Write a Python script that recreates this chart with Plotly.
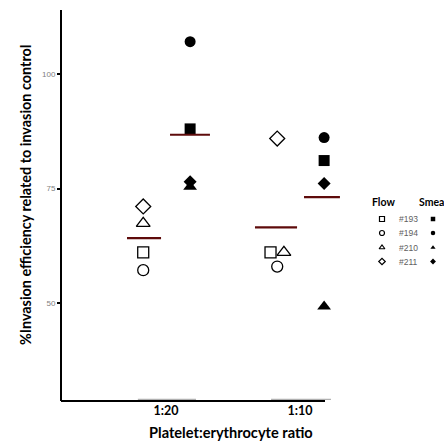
import plotly.graph_objects as go

# ---------------- data ----------------
categories = ["1:20", "1:10"]
donors = ["#193", "#194", "#210", "#211"]
flow_1_20 = [61.1, 57.2, 67.4, 71.1]
smear_1_20 = [88.0, 107.0, 75.4, 76.5]
flow_1_10 = [61.1, 58.0, 61.1, 85.9]
smear_1_10 = [81.1, 86.1, 49.3, 76.1]
y_ticks = [50, 75, 100]

# ---------------- styles ----------------
W, H = 444, 443
L, R, T, B = 62, 345, 10, 401          # plot area in pixels
open_symbols = ["square-open", "circle-open", "triangle-up-open", "diamond-open"]
fill_symbols = ["square", "circle", "triangle-up", "diamond"]
open_sizes = [11, 11, 12, 11.5]
fill_sizes = [11, 11, 12, 10]
flow_off = -0.17
smear_off = 0.18
flow_nudge = {0: [0, 0, 0, 0], 1: [-0.05, 0, 0.05, 0]}
smear_nudge = {0: [0, 0, 0, 0], 1: [0, 0, 0, 0]}
mean_half = {("flow", 0): 0.127, ("smear", 0): 0.149, ("flow", 1): 0.157, ("smear", 1): 0.134}
mean_center = {("flow", 0): -0.164, ("smear", 0): 0.179, ("flow", 1): -0.179, ("smear", 1): 0.164}
mean_color = "#5e0b0b"

groups = {(0, "flow"): flow_1_20, (0, "smear"): smear_1_20,
          (1, "flow"): flow_1_10, (1, "smear"): smear_1_10}

fig = go.Figure()

for (ci, kind), vals in groups.items():
    for di, v in enumerate(vals):
        if kind == "flow":
            x = ci + flow_off + flow_nudge[ci][di]
            marker = dict(symbol=open_symbols[di], size=open_sizes[di], color="black",
                          line=dict(width=1.3, color="black"))
        else:
            x = ci + smear_off + smear_nudge[ci][di]
            marker = dict(symbol=fill_symbols[di], size=fill_sizes[di], color="black", line=dict(width=0))
        fig.add_trace(go.Scatter(x=[x], y=[v], mode="markers", marker=marker,
                                 showlegend=False, cliponaxis=False, hoverinfo="skip"))
    m = sum(vals) / len(vals)
    c = ci + mean_center[(kind, ci)]
    h = mean_half[(kind, ci)]
    fig.add_trace(go.Scatter(x=[c - h, c + h], y=[m, m], mode="lines",
                             line=dict(color=mean_color, width=2.2),
                             showlegend=False, hoverinfo="skip"))

# faint grey bars just above the x axis
for ci, (a, b) in enumerate([(-0.21, 0.224), (-0.216, 0.231)]):
    fig.add_shape(type="line", xref="x", yref="y", x0=ci + a, x1=ci + b, y0=29.05, y1=29.05,
                  line=dict(color="#b0b0b0", width=1.2))

# ---------------- legend (pixel coordinates on a full-canvas overlay axis) ----------------
rows_y = [219, 233, 247.5, 261.5]
leg_open_x = 382
leg_fill_x = 433
leg_text_x = 397
for di in range(4):
    fig.add_trace(go.Scatter(x=[leg_open_x], y=[rows_y[di]], xaxis="x2", yaxis="y2", mode="markers",
                             marker=dict(symbol=open_symbols[di], size=5, color="black",
                                         line=dict(width=1.2, color="black")),
                             showlegend=False, cliponaxis=False, hoverinfo="skip"))
    fig.add_trace(go.Scatter(x=[leg_fill_x], y=[rows_y[di]], xaxis="x2", yaxis="y2", mode="markers",
                             marker=dict(symbol=fill_symbols[di], size=4.5, color="black"),
                             showlegend=False, cliponaxis=False, hoverinfo="skip"))
    fig.add_annotation(x=leg_text_x, y=rows_y[di], xref="x2", yref="y2", text=donors[di],
                       showarrow=False, xanchor="left", yanchor="middle",
                       font=dict(family="Arial, Liberation Sans", size=8.5, color="#606060"))

fig.add_annotation(x=383, y=202, xref="x2", yref="y2", text="<b>Flow</b>", showarrow=False,
                   xanchor="center", yanchor="middle", font=dict(family="Lato", size=10.5, color="black"))
fig.add_annotation(x=417, y=202, xref="x2", yref="y2", text="<b>Smear</b>", showarrow=False,
                   xanchor="left", yanchor="middle", font=dict(family="Lato", size=10.5, color="black"))

# axis titles
fig.add_annotation(x=25, y=195, xref="x2", yref="y2",
                   text="<b>%Invasion efficiency related to invasion control</b>",
                   textangle=-90, showarrow=False, xanchor="center", yanchor="middle",
                   font=dict(family="Lato", size=14.4, color="black"))
fig.add_annotation(x=231, y=432, xref="x2", yref="y2", text="<b>Platelet:erythrocyte ratio</b>",
                   showarrow=False, xanchor="center", yanchor="middle",
                   font=dict(family="Lato", size=14.6, color="black"))

# x axis line (stops short of the plot's right edge)
fig.add_shape(type="line", xref="x2", yref="y2", x0=L - 1, x1=325, y0=B, y1=B,
              line=dict(color="black", width=2))

xr = [-(166 - L) / 134, 1 + (R - 300) / 134]
yr = [50 - (B - 303) / 4.6, 100 + (74 - T) / 4.6]

fig.update_layout(
    width=W, height=H,
    margin=dict(l=0, r=0, t=0, b=0, pad=0),
    paper_bgcolor="white", plot_bgcolor="rgba(0,0,0,0)",
    xaxis=dict(domain=[L / W, R / W], range=xr, tickvals=[0, 1],
               ticktext=[f"<b>{c}</b>" for c in categories], anchor="y",
               showline=False, showgrid=False, zeroline=False, ticks="",
               tickfont=dict(family="Lato", size=12.5, color="black")),
    yaxis=dict(domain=[(H - B) / H, (H - T) / H], range=yr, tickvals=y_ticks, anchor="x",
               showline=True, linecolor="black", linewidth=2,
               showgrid=False, zeroline=False, ticks="outside", ticklen=3, tickwidth=1.5,
               tickcolor="black", tickfont=dict(family="Arial, Liberation Sans", size=8, color="#808080")),
    xaxis2=dict(domain=[0, 1], range=[0, W], visible=False, anchor="y2"),
    yaxis2=dict(domain=[0, 1], range=[H, 0], visible=False, anchor="x2"),
)

fig.write_html("out.html", config={"displayModeBar": False},
               post_script="document.body.style.margin='0';")
